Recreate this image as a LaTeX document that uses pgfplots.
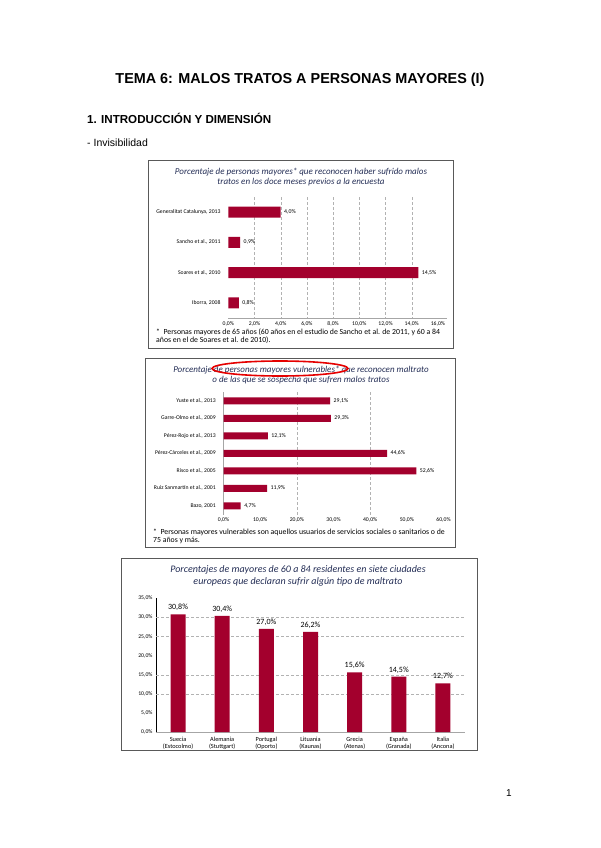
\documentclass[border=0pt]{standalone}
\usepackage{fontspec}
\setmainfont{Liberation Sans}
\newfontfamily\calfont{Carlito}
\usepackage{pgfplots}
\pgfplotsset{compat=1.18}
\definecolor{barred}{RGB}{163,0,45}
\definecolor{ttl}{RGB}{35,45,85}
\pgfplotsset{
  every axis/.append style={
    scale only axis, anchor=south west,
    /pgf/number format/.cd, use comma, fixed, fixed zerofill, precision=1, assume math mode=true,
  },
  pct/.style={
    tick style={draw=none},
    axis line style={gray!70},
    grid style={densely dashed, gray!60},
  },
}
\begin{document}
\begin{tikzpicture}
\useasboundingbox (0,0) rectangle (600pt,-848pt);

% encabezados
\node[font=\bfseries\fontsize{14.4}{16}\selectfont] at (300pt,-80pt) {TEMA 6: MALOS TRATOS A PERSONAS MAYORES (I)};
\node[anchor=west, font=\bfseries\fontsize{11.6}{13}\selectfont, inner sep=0] at (87pt,-118pt) {1. INTRODUCCIÓN Y DIMENSIÓN};
\node[anchor=west, font=\fontsize{10.5}{12}\selectfont, inner sep=0] at (87pt,-143pt) {- Invisibilidad};
\node[font=\fontsize{10}{12}\selectfont] at (509pt,-793pt) {1};

% ---------- grafico 1 ----------
\draw[black!65, line width=1pt] (148pt,-160pt) rectangle (453pt,-348pt);
\node[align=center, text=ttl, font=\calfont\itshape\fontsize{9}{10.5}\selectfont] at (301pt,-177pt)
  {Porcentaje de personas mayores* que reconocen haber sufrido malos\\tratos en los doce meses previos a la encuesta};
\begin{axis}[pct,
  at={(228.3pt,-318pt)}, width=218.8pt, height=121pt,
  xbar, bar width=11pt,
  xmin=0, xmax=16.7, ymin=-0.5, ymax=3.5, y dir=reverse,
  xtick={0,2,...,16}, ytick={0,1,2,3},
  xticklabel={\pgfmathprintnumber{\tick}\%},
  yticklabels={{Generalitat Catalunya, 2013},{Sancho et al., 2011},{Soares et al., 2010},{Iborra, 2008}},
  tick label style={font=\calfont\fontsize{5.7}{6}\selectfont},
  xtick pos=bottom, ytick pos=left,
  axis x line*=bottom, axis y line*=left, y axis line style={draw=none},
  extra x ticks={2,4,...,14}, extra x tick labels={}, extra x tick style={grid=major},
  nodes near coords={\pgfmathprintnumber{\pgfplotspointmeta}\%},
  every node near coord/.append style={font=\calfont\fontsize{5.8}{6}\selectfont, black},
]
\addplot[fill=barred, draw=none] coordinates {(4.0,0) (0.9,1) (14.5,2) (0.8,3)};
\end{axis}
\node[anchor=north west, align=left, inner sep=0, font=\calfont\fontsize{7.8}{7.6}\selectfont] at (156pt,-329pt)
  {*\ \ Personas mayores de 65 años (60 años en el estudio de Sancho et al. de 2011, y 60 a 84\\años en el de Soares et al. de 2010).};

% ---------- grafico 2 ----------
\draw[black!65, line width=1pt] (145pt,-358pt) rectangle (455pt,-547pt);
\node[align=center, text=ttl, font=\calfont\itshape\fontsize{9}{10.5}\selectfont] at (301pt,-375pt)
  {Porcentaje de personas mayores vulnerables* que reconocen maltrato\\o de las que se sospecha que sufren malos tratos};
\draw[red!90!black, line width=1.6pt] (280pt,-368.5pt) ellipse (68pt and 7.5pt);
\begin{axis}[pct,
  at={(223.5pt,-514.5pt)}, width=220pt, height=122.5pt,
  xbar, bar width=7pt,
  xmin=0, xmax=60, ymin=-0.5, ymax=6.5, y dir=reverse,
  xtick={0,10,...,60}, ytick={0,...,6},
  xticklabel={\pgfmathprintnumber{\tick}\%},
  yticklabels={{Yuste et al., 2013},{Garre-Olmo et al., 2009},{Pérez-Rojo et al., 2013},{Pérez-Cárceles et al., 2009},{Risco et al., 2005},{Ruiz Sanmartín et al., 2001},{Bazo, 2001}},
  tick label style={font=\calfont\fontsize{5.7}{6}\selectfont},
  xtick pos=bottom, ytick pos=left,
  axis x line*=bottom, axis y line*=left, x axis line style={draw=none},
  extra x ticks={20,40}, extra x tick labels={}, extra x tick style={grid=major},
  nodes near coords={\pgfmathprintnumber{\pgfplotspointmeta}\%},
  every node near coord/.append style={font=\calfont\fontsize{5.8}{6}\selectfont, black},
]
\addplot[fill=barred, draw=none] coordinates {(29.1,0) (29.3,1) (12.1,2) (44.6,3) (52.6,4) (11.9,5) (4.7,6)};
\end{axis}
\node[anchor=north west, align=left, inner sep=0, font=\calfont\fontsize{7.8}{7.6}\selectfont] at (153pt,-529pt)
  {*\ \ Personas mayores vulnerables son aquellos usuarios de servicios sociales o sanitarios o de\\75 años y más.};

% ---------- grafico 3 ----------
\draw[black!65, line width=1pt] (121pt,-558pt) rectangle (477pt,-750pt);
\node[align=center, text=ttl, font=\calfont\itshape\fontsize{10}{12}\selectfont] at (298pt,-576pt)
  {Porcentajes de mayores de 60 a 84 residentes en siete ciudades\\europeas que declaran sufrir algún tipo de maltrato};
\begin{axis}[pct,
  at={(156pt,-732pt)}, width=309pt, height=133.7pt,
  ybar, bar width=15pt,
  xmin=-0.5, xmax=6.5, ymin=0, ymax=35,
  xtick={0,...,6}, ytick={0,5,...,35},
  yticklabel={\pgfmathprintnumber{\tick}\%},
  xticklabels={{Suecia\\(Estocolmo)},{Alemania\\(Stuttgart)},{Portugal\\(Oporto)},{Lituania\\(Kaunas)},{Grecia\\(Atenas)},{España\\(Granada)},{Italia\\(Ancona)}},
  xticklabel style={align=center, inner sep=1pt, font=\calfont\fontsize{6.3}{6.6}\selectfont},
  yticklabel style={font=\calfont\fontsize{5.7}{6}\selectfont},
  xtick pos=bottom, ytick pos=left,
  axis x line*=bottom, axis y line*=left, y axis line style={black},
  extra y ticks={10,15,25,30}, extra y tick labels={}, extra y tick style={grid=major},
  nodes near coords={\pgfmathprintnumber{\pgfplotspointmeta}\%},
  every node near coord/.append style={font=\calfont\fontsize{8}{9}\selectfont, black},
]
\addplot[fill=barred, draw=none] coordinates {(0,30.8) (1,30.4) (2,27.0) (3,26.2) (4,15.6) (5,14.5) (6,12.7)};
\end{axis}
\end{tikzpicture}
\end{document}
